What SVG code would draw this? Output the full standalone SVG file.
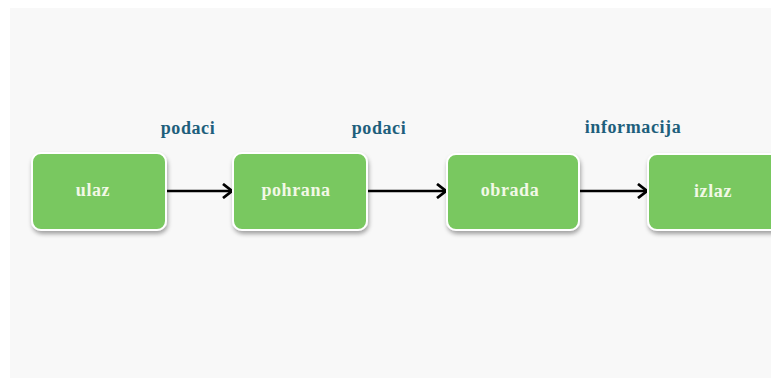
<svg xmlns="http://www.w3.org/2000/svg" width="771" height="385" viewBox="0 0 771 385">
<defs>
<style>
.box{fill:#79c860;stroke:#ffffff;stroke-width:2}
.lbl{font-family:"Liberation Serif",serif;font-weight:bold;font-size:18px;letter-spacing:0.6px;fill:#f2f8e6;text-anchor:middle}
.top{font-family:"Liberation Serif",serif;font-weight:bold;font-size:18px;letter-spacing:0.6px;fill:#1e5f7c;text-anchor:middle}
.conn{stroke:#000;stroke-width:2.5;fill:none}
</style>
<filter id="sh" x="-20%" y="-20%" width="140%" height="150%">
<feDropShadow dx="1" dy="3" stdDeviation="2" flood-color="#000" flood-opacity="0.35"/>
</filter>
<marker id="ar" viewBox="0 0 14 16" refX="12" refY="8" markerWidth="14" markerHeight="16" markerUnits="userSpaceOnUse" orient="auto">
<path d="M3,1 L12,8 L3,15" fill="none" stroke="#000" stroke-width="2.8"/>
</marker>
</defs>
<rect width="771" height="385" fill="#ffffff"/>
<rect x="10" y="8" width="761" height="370" fill="#f8f8f8"/>
<g id="connectors">
<line class="conn" x1="167" y1="191" x2="232" y2="191" marker-end="url(#ar)"/>
<line class="conn" x1="368" y1="191" x2="446" y2="191" marker-end="url(#ar)"/>
<line class="conn" x1="580" y1="191" x2="647" y2="191" marker-end="url(#ar)"/>
</g>
<g id="label-podaci-1"><text class="top" x="188" y="134">podaci</text></g>
<g id="label-podaci-2"><text class="top" x="379" y="134">podaci</text></g>
<g id="label-informacija"><text class="top" x="633" y="133">informacija</text></g>
<g id="ulaz">
<rect class="box" x="32" y="153" width="134" height="77" rx="9" filter="url(#sh)"/>
<text class="lbl" x="93" y="196">ulaz</text>
</g>
<g id="pohrana">
<rect class="box" x="233" y="153" width="134" height="77" rx="9" filter="url(#sh)"/>
<text class="lbl" x="296" y="196">pohrana</text>
</g>
<g id="obrada">
<rect class="box" x="447" y="154" width="132" height="76" rx="9" filter="url(#sh)"/>
<text class="lbl" x="510" y="196">obrada</text>
</g>
<g id="izlaz">
<rect class="box" x="648" y="154" width="135" height="76" rx="9" filter="url(#sh)"/>
<text class="lbl" x="713" y="197">izlaz</text>
</g>
</svg>
